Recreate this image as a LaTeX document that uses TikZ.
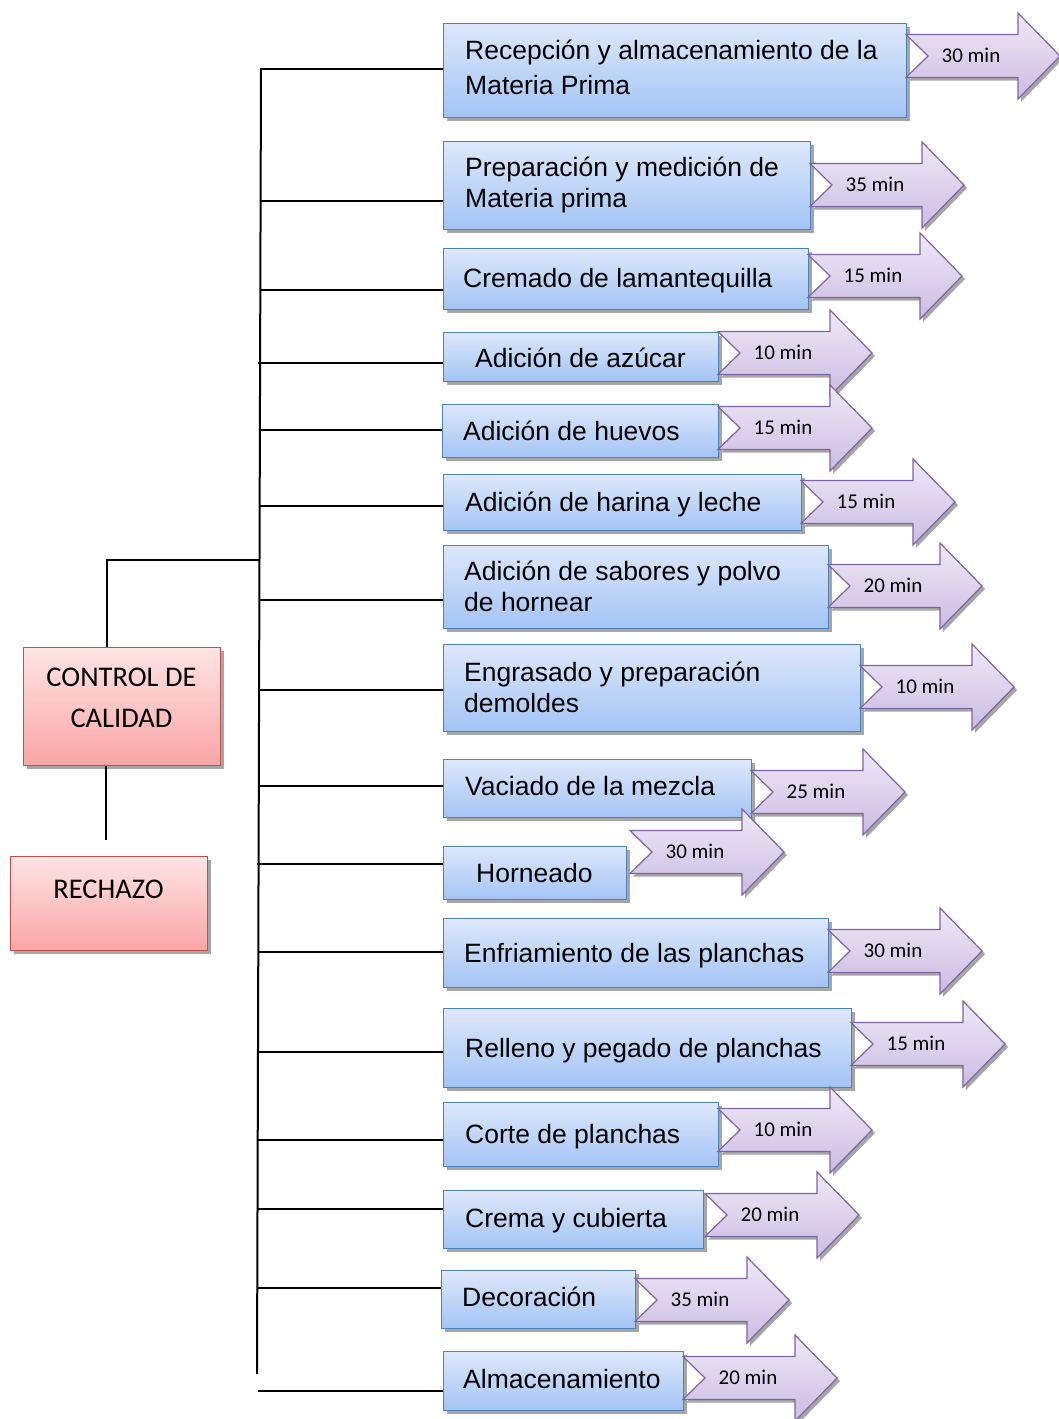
\documentclass[tikz,border=0pt]{standalone}
\usepackage{fontspec}
\setmainfont{Liberation Sans}
\newfontfamily\calfont{Carlito}
\usetikzlibrary{shadows}
\definecolor{btop}{HTML}{DDE8FB}
\definecolor{bbot}{HTML}{A3C4F5}
\definecolor{bline}{HTML}{4F81BD}
\definecolor{ptop}{HTML}{EFE9F7}
\definecolor{pbot}{HTML}{CBBCE3}
\definecolor{pline}{HTML}{8064A2}
\definecolor{rtop}{HTML}{FFE4E4}
\definecolor{rbot}{HTML}{FAA5A5}
\definecolor{rline}{HTML}{C0504D}
\definecolor{shdcol}{HTML}{A6A6A6}
\tikzset{
  dshadow/.style={drop shadow={shadow xshift=3pt,shadow yshift=-3pt,fill=shdcol,opacity=1}},
  procbox/.style={draw=bline,line width=1.3pt,top color=btop,bottom color=bbot,dshadow,inner sep=0pt,anchor=north west},
  redbox/.style={draw=rline,line width=1.3pt,top color=rtop,bottom color=rbot,dshadow,inner sep=0pt,anchor=north west},
  timearr/.style={draw=pline,line width=1.2pt,top color=ptop,bottom color=pbot,line join=miter,dshadow},
  boxtext/.style={font=\fontsize{26.5}{31}\selectfont,align=left,inner sep=0pt,anchor=west},
  oneline/.style={text height=19pt,text depth=0pt},
  arrtext/.style={font=\calfont\fontsize{21}{25}\selectfont,inner sep=0pt,text height=13.5pt,text depth=0pt},
  redtext/.style={font=\calfont\fontsize{28.5}{41}\selectfont,align=center,inner sep=0pt},
  treeline/.style={draw=black,line width=2pt}
}
% #1 name, #2 x1, #3 y1, #4 x2, #5 y2
\newcommand\procbx[5]{%
  \node[procbox,minimum width={(#4-#2)*1pt},minimum height={(#5-#3)*1pt}] (#1) at (#2,-#3) {};}
% #1 name, #2 left x, #3 centre y, #4 text
\newcommand\timestep[4]{%
  \path[timearr] (#2,-#3+21.5) -- (#2+112,-#3+21.5) -- (#2+112,-#3+43) -- (#2+154,-#3)
     -- (#2+112,-#3-43) -- (#2+112,-#3-21.5) -- (#2,-#3-21.5) -- (#2+22,-#3) -- cycle;
  \node[arrtext] (#1) at (#2+65,-#3) {#4};}
\begin{document}
\begin{tikzpicture}[x=1pt,y=1pt]
\useasboundingbox (0,0) rectangle (1059,-1419);
\fill[white] (0,0) rectangle (1059,-1419);

% trunk
\coordinate (trtop) at (261,-68);
\coordinate (trbot) at (257,-1374);
\draw[treeline] (trtop) -- (trbot);

% boxes, texts and time arrows
\procbx{b1}{443}{23}{906}{117}
\node[boxtext] (t1) at (465,-67.5) {Recepción y almacenamiento de la\\[4pt]Materia Prima};
\timestep{a1}{906}{56}{30 min}

\procbx{b2}{443}{141}{810}{229}
\node[boxtext] (t2) at (465,-185) {Preparación y medición de\\Materia prima};
\timestep{a2}{810}{185}{35 min}

\procbx{b3}{443}{248}{808}{309}
\node[boxtext,oneline] (t3) at (463,-278) {Cremado de lamantequilla};
\timestep{a3}{808}{276}{15 min}

\procbx{b4}{443}{332}{718}{381}
\node[boxtext,oneline] (t4) at (475,-358) {Adición de azúcar};
\timestep{a4}{718}{353}{10 min}

\procbx{b5}{442}{404}{718}{457}
\node[boxtext,oneline] (t5) at (463,-431) {Adición de huevos};
\timestep{a5}{718}{428}{15 min}

\procbx{b6}{443}{474}{801}{530}
\node[boxtext,oneline] (t6) at (465,-502) {Adición de harina y leche};
\timestep{a6}{801}{502}{15 min}

\procbx{b7}{443}{545}{828}{628}
\node[boxtext] (t7) at (464,-586.5) {Adición de sabores y polvo\\de hornear};
\timestep{a7}{828}{586}{20 min}

\procbx{b8}{443}{644}{860}{731}
\node[boxtext] (t8) at (464,-687.5) {Engrasado y preparación\\demoldes};
\timestep{a8}{860}{687}{10 min}

\procbx{b9}{443}{759}{751}{817}
\node[boxtext,oneline] (t9) at (465,-786) {Vaciado de la mezcla};
\timestep{a9}{751}{792}{25 min}

\procbx{b10}{443}{846}{626}{899}
\node[boxtext,oneline] (t10) at (476,-873) {Horneado};
\timestep{a10}{630}{852}{30 min}

\procbx{b11}{443}{918}{828}{987}
\node[boxtext,oneline] (t11) at (464,-953) {Enfriamiento de las planchas};
\timestep{a11}{828}{951}{30 min}

\procbx{b12}{443}{1008}{851}{1087}
\node[boxtext,oneline] (t12) at (465,-1048) {Relleno y pegado de planchas};
\timestep{a12}{851}{1044}{15 min}

\procbx{b13}{443}{1102}{718}{1166}
\node[boxtext,oneline] (t13) at (465,-1134) {Corte de planchas};
\timestep{a13}{718}{1130}{10 min}

\procbx{b14}{443}{1190}{703}{1248}
\node[boxtext,oneline] (t14) at (465,-1218) {Crema y cubierta};
\timestep{a14}{705}{1215}{20 min}

\procbx{b15}{441}{1270}{635}{1328}
\node[boxtext,oneline] (t15) at (462,-1297) {Decoración};
\timestep{a15}{635}{1300}{35 min}

\procbx{b16}{443}{1351}{683}{1410}
\node[boxtext,oneline] (t16) at (463,-1379) {Almacenamiento};
\timestep{a16}{683}{1378}{20 min}

% branches
\coordinate (j1) at (261,-69);
\coordinate (j2) at (260.6,-201);
\coordinate (j3) at (260.3,-290);
\coordinate (j4) at (258,-363);
\coordinate (j5) at (259.9,-430);
\coordinate (j6) at (259.7,-506);
\coordinate (j7) at (259.4,-600);
\coordinate (j8) at (259.1,-690);
\coordinate (j9) at (258.8,-786);
\coordinate (j10) at (257,-864);
\coordinate (j11) at (258.3,-952);
\coordinate (j12) at (258,-1052);
\coordinate (j13) at (257.7,-1140);
\coordinate (j14) at (257.5,-1209);
\coordinate (j15) at (257.3,-1288);
\coordinate (j16) at (258,-1391);
\foreach \i in {1,...,16}{\draw[treeline] (j\i) -- (j\i -| b\i.west);}

% quality control
\node[redbox,minimum width=197pt,minimum height=118pt] (ctrl) at (23,-647) {};
\node[redtext] (ctrlt) at (121.5,-697.5) {CONTROL DE\\CALIDAD};
\node[redbox,minimum width=197pt,minimum height=94pt] (rech) at (10,-856) {};
\node[redtext,text height=19pt,text depth=0pt] (recht) at (108.5,-889) {RECHAZO};
\coordinate (jc) at (259.5,-560);
\coordinate (cc) at (107,-560);
\draw[treeline] (jc) -- (cc) -- (cc |- ctrl.north);
\coordinate (rend) at (106,-840);
\draw[treeline] (rend |- ctrl.south) -- (rend);
\end{tikzpicture}
\end{document}
